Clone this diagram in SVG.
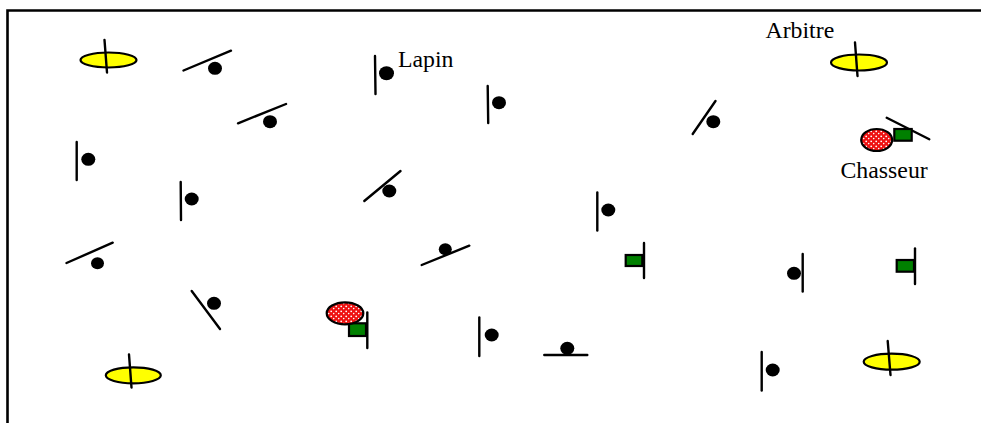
<svg xmlns="http://www.w3.org/2000/svg" width="981" height="423" viewBox="0 0 981 423">
<style>
.st{stroke:#000;stroke-width:2.4;stroke-linecap:round;fill:none}
.dot{fill:#000}
.arb{fill:#ffff00;stroke:#000;stroke-width:2.2}
.hun{fill:url(#stip);stroke:#000;stroke-width:2.2}
.flag{fill:#008000;stroke:#000;stroke-width:2.2}
.lbl{font-family:"Liberation Serif","Times New Roman",serif;font-size:23.8px;fill:#000}
</style>
<defs>
<pattern id="stip" width="5" height="5" patternUnits="userSpaceOnUse">
<rect width="5" height="5" fill="#ee1111"/>
<circle cx="1.2" cy="1.3" r="0.9" fill="#fff"/>
<circle cx="3.7" cy="3.6" r="0.8" fill="#fff"/>
</pattern>
</defs>
<rect x="0" y="0" width="981" height="423" fill="#fff"/>
<path d="M7.5,425 V10.5 H985" fill="none" stroke="#000" stroke-width="2.6"/>

<g id="arbitre1"><ellipse class="arb" cx="108.5" cy="60" rx="28" ry="7.5"/><line class="st" x1="104.5" y1="40" x2="107" y2="72.5"/></g>
<g id="arbitre2"><ellipse class="arb" cx="859" cy="62.5" rx="28" ry="8"/><line class="st" x1="855" y1="42.5" x2="857.5" y2="76"/></g>
<g id="arbitre3"><ellipse class="arb" cx="133.3" cy="375.3" rx="27.5" ry="8"/><line class="st" x1="129" y1="354.5" x2="131.5" y2="387.5"/></g>
<g id="arbitre4"><ellipse class="arb" cx="891.7" cy="361.7" rx="28" ry="8"/><line class="st" x1="887.7" y1="341" x2="890.5" y2="375"/></g>

<g id="lapin1"><line class="st" x1="183.5" y1="70.5" x2="231" y2="50.7"/><ellipse class="dot" cx="215" cy="68.3" rx="7" ry="6.5"/></g>
<g id="lapin2"><line class="st" x1="238" y1="123.3" x2="286" y2="104"/><ellipse class="dot" cx="270" cy="121.7" rx="7" ry="6.5"/></g>
<g id="lapin3"><line class="st" x1="375" y1="56" x2="375.5" y2="94"/><ellipse class="dot" cx="386.5" cy="73.3" rx="7.5" ry="7"/></g>
<g id="lapin4"><line class="st" x1="487.7" y1="86" x2="488.2" y2="123"/><ellipse class="dot" cx="499" cy="102.7" rx="7" ry="6.5"/></g>
<g id="lapin5"><line class="st" x1="692.7" y1="134" x2="715.5" y2="101"/><ellipse class="dot" cx="713.3" cy="121.7" rx="7" ry="6.5"/></g>
<g id="lapin6"><line class="st" x1="76.7" y1="142" x2="76.7" y2="180"/><ellipse class="dot" cx="88.3" cy="159.3" rx="7" ry="6.5"/></g>
<g id="lapin7"><line class="st" x1="180.7" y1="182" x2="181" y2="220"/><ellipse class="dot" cx="191.7" cy="199" rx="7" ry="6.5"/></g>
<g id="lapin8"><line class="st" x1="66.5" y1="263" x2="112.7" y2="242.7"/><ellipse class="dot" cx="97.5" cy="263.3" rx="6.5" ry="6"/></g>
<g id="lapin9"><line class="st" x1="364.3" y1="201" x2="400.5" y2="171"/><ellipse class="dot" cx="389.3" cy="191" rx="7" ry="6.5"/></g>
<g id="lapin10"><line class="st" x1="421.7" y1="265" x2="469.3" y2="245.7"/><ellipse class="dot" cx="445.3" cy="249.3" rx="6.5" ry="6"/></g>
<g id="lapin11"><line class="st" x1="597.3" y1="192.5" x2="597.3" y2="230.5"/><ellipse class="dot" cx="608.3" cy="210" rx="7" ry="6.5"/></g>
<g id="lapin12"><line class="st" x1="802.7" y1="254" x2="802.7" y2="291.5"/><ellipse class="dot" cx="794" cy="273.3" rx="7" ry="6.5"/></g>
<g id="lapin13"><line class="st" x1="191.7" y1="291" x2="220" y2="329"/><ellipse class="dot" cx="214" cy="303.3" rx="7" ry="6.5"/></g>
<g id="lapin14"><line class="st" x1="479.3" y1="317.5" x2="479.3" y2="356"/><ellipse class="dot" cx="491.7" cy="335" rx="7" ry="6.5"/></g>
<g id="lapin15"><line class="st" x1="544.3" y1="355" x2="587.3" y2="355"/><ellipse class="dot" cx="567.3" cy="348.3" rx="7" ry="6.5"/></g>
<g id="lapin16"><line class="st" x1="761.7" y1="352" x2="761.7" y2="390.5"/><ellipse class="dot" cx="772.7" cy="370" rx="7" ry="6.5"/></g>

<g id="chasseur1"><line class="st" x1="886.7" y1="117.7" x2="929.3" y2="139.3"/><rect class="flag" x="894.3" y="129" width="17.4" height="11.7"/><ellipse class="hun" cx="876.7" cy="140" rx="15.5" ry="11"/></g>
<g id="chasseur2"><rect class="flag" x="349" y="323.3" width="17" height="12.7"/><line class="st" x1="367.3" y1="312.5" x2="367.3" y2="348"/><ellipse class="hun" cx="345" cy="313.3" rx="18.3" ry="11"/></g>

<g id="flag1"><rect class="flag" x="625.7" y="255" width="16.6" height="11"/><line class="st" x1="644" y1="243" x2="644" y2="278"/></g>
<g id="flag2"><rect class="flag" x="896.7" y="260" width="17.3" height="11.7"/><line class="st" x1="915" y1="248.5" x2="915" y2="284"/></g>

<g id="labels">
<text class="lbl" x="398" y="67.3">Lapin</text>
<text class="lbl" x="765.5" y="38.3">Arbitre</text>
<text class="lbl" x="840.5" y="178.3">Chasseur</text>
</g>
</svg>
